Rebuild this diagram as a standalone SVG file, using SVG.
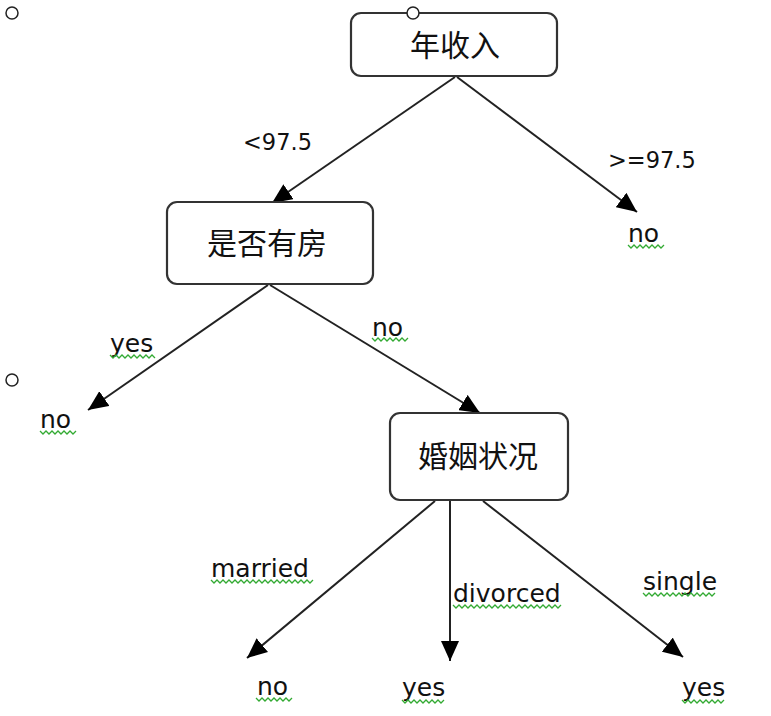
<svg xmlns="http://www.w3.org/2000/svg" width="771" height="716" viewBox="0 0 771 716">
<style>
.box{fill:#fff;stroke:#333;stroke-width:2.2}
.cj{font-family:"Noto Sans CJK SC","DejaVu Sans",sans-serif;font-size:30px;fill:#111;text-anchor:middle}
.lb{font-family:"DejaVu Sans","Liberation Sans",sans-serif;font-size:22.5px;fill:#111}
.wd{font-family:"DejaVu Sans","Liberation Sans",sans-serif;font-size:25px;fill:#111}
.edge{stroke:#222;stroke-width:2;fill:none;marker-end:url(#ah)}
.sq{stroke:#3a3;stroke-width:1.3;fill:none}
.pt{fill:#fff;stroke:#222;stroke-width:1.5}
</style>
<defs>
<marker id="ah" viewBox="0 0 20 18" refX="20" refY="9" markerWidth="20" markerHeight="18" markerUnits="userSpaceOnUse" orient="auto">
<path d="M0,0 L20,9 L0,18 z" fill="#000"/>
</marker>
</defs>
<rect width="771" height="716" fill="#fff"/>
<g id="connectors">
<line class="edge" x1="455" y1="77" x2="272" y2="203"/>
<line class="edge" x1="457" y1="77" x2="637" y2="212"/>
<line class="edge" x1="268" y1="285" x2="88" y2="410"/>
<line class="edge" x1="270" y1="285" x2="480" y2="413"/>
<line class="edge" x1="435" y1="501" x2="247" y2="658"/>
<line class="edge" x1="450" y1="501" x2="450" y2="661"/>
<line class="edge" x1="483" y1="501" x2="683" y2="657"/>
</g>
<g id="n1"><rect class="box" x="351" y="13" width="206" height="63" rx="10"/><text class="cj" x="455" y="56">年收入</text></g>
<g id="n2"><rect class="box" x="167" y="202" width="206" height="82" rx="10"/><text class="cj" x="267" y="254">是否有房</text></g>
<g id="n3"><rect class="box" x="390" y="413" width="178" height="87" rx="10"/><text class="cj" x="478" y="467">婚姻状况</text></g>
<g id="labels">
<text class="lb" x="243" y="150">&lt;97.5</text>
<text class="lb" x="608" y="168">&gt;=97.5</text>
<text class="wd" x="110" y="352">yes</text>
<text class="wd" x="372" y="336">no</text>
<text class="wd" x="211" y="577">married</text>
<text class="wd" x="453" y="602">divorced</text>
<text class="wd" x="643" y="590">single</text>
</g>
<g id="leaf1"><text class="wd" x="628" y="242">no</text></g>
<g id="leaf2"><text class="wd" x="40" y="428">no</text></g>
<g id="leaf3"><text class="wd" x="257" y="695">no</text></g>
<g id="leaf4"><text class="wd" x="402" y="696">yes</text></g>
<g id="leaf5"><text class="wd" x="682" y="696">yes</text></g>
<g id="squiggles">
<path class="sq" d="M628,245 l3,3 l3,-3 l3,3 l3,-3 l3,3 l3,-3 l3,3 l3,-3 l3,3 l3,-3 l3,3 l3,-3"/>
<path class="sq" d="M110,355 l3,3 l3,-3 l3,3 l3,-3 l3,3 l3,-3 l3,3 l3,-3 l3,3 l3,-3 l3,3 l3,-3 l3,3 l3,-3 l3,3"/>
<path class="sq" d="M40,431 l3,3 l3,-3 l3,3 l3,-3 l3,3 l3,-3 l3,3 l3,-3 l3,3 l3,-3 l3,3 l3,-3"/>
<path class="sq" d="M372,338 l3,3 l3,-3 l3,3 l3,-3 l3,3 l3,-3 l3,3 l3,-3 l3,3 l3,-3 l3,3 l3,-3"/>
<path class="sq" d="M211,580 l3,3 l3,-3 l3,3 l3,-3 l3,3 l3,-3 l3,3 l3,-3 l3,3 l3,-3 l3,3 l3,-3 l3,3 l3,-3 l3,3 l3,-3 l3,3 l3,-3 l3,3 l3,-3 l3,3 l3,-3 l3,3 l3,-3 l3,3 l3,-3 l3,3 l3,-3 l3,3 l3,-3 l3,3 l3,-3 l3,3 l3,-3"/>
<path class="sq" d="M453,605 l3,3 l3,-3 l3,3 l3,-3 l3,3 l3,-3 l3,3 l3,-3 l3,3 l3,-3 l3,3 l3,-3 l3,3 l3,-3 l3,3 l3,-3 l3,3 l3,-3 l3,3 l3,-3 l3,3 l3,-3 l3,3 l3,-3 l3,3 l3,-3 l3,3 l3,-3 l3,3 l3,-3 l3,3 l3,-3 l3,3 l3,-3 l3,3 l3,-3"/>
<path class="sq" d="M643,593 l3,3 l3,-3 l3,3 l3,-3 l3,3 l3,-3 l3,3 l3,-3 l3,3 l3,-3 l3,3 l3,-3 l3,3 l3,-3 l3,3 l3,-3 l3,3 l3,-3 l3,3 l3,-3 l3,3 l3,-3 l3,3 l3,-3"/>
<path class="sq" d="M256,698 l3,3 l3,-3 l3,3 l3,-3 l3,3 l3,-3 l3,3 l3,-3 l3,3 l3,-3 l3,3 l3,-3"/>
<path class="sq" d="M402,700 l3,3 l3,-3 l3,3 l3,-3 l3,3 l3,-3 l3,3 l3,-3 l3,3 l3,-3 l3,3 l3,-3 l3,3 l3,-3"/>
<path class="sq" d="M682,700 l3,3 l3,-3 l3,3 l3,-3 l3,3 l3,-3 l3,3 l3,-3 l3,3 l3,-3 l3,3 l3,-3 l3,3 l3,-3"/>
</g>
<circle class="pt" cx="12" cy="13" r="6"/>
<circle class="pt" cx="413" cy="13" r="6"/>
<circle class="pt" cx="12" cy="380" r="6"/>
</svg>
